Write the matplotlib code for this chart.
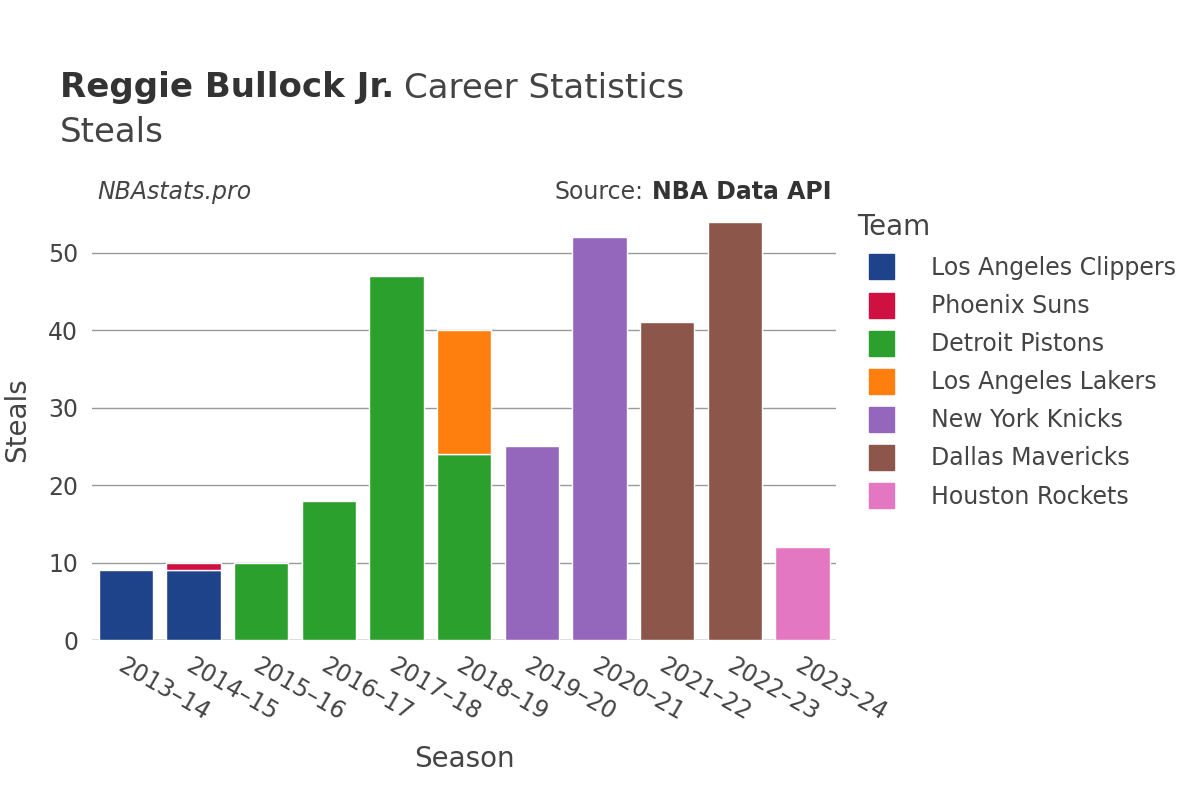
import numpy as np
import matplotlib.pyplot as plt
from matplotlib.lines import Line2D

# Data
seasons = ["2013–14", "2014–15", "2015–16", "2016–17", "2017–18", "2018–19",
           "2019–20", "2020–21", "2021–22", "2022–23", "2023–24"]
teams = ["Los Angeles Clippers", "Phoenix Suns", "Detroit Pistons", "Los Angeles Lakers",
         "New York Knicks", "Dallas Mavericks", "Houston Rockets"]
colors = ["#1f438a", "#ce1141", "#2ca02c", "#ff7f0e", "#9467bd", "#8c564b", "#e377c2"]

clippers = [9, 9, 0, 0, 0, 0, 0, 0, 0, 0, 0]
suns     = [0, 1, 0, 0, 0, 0, 0, 0, 0, 0, 0]
pistons  = [0, 0, 10, 18, 47, 24, 0, 0, 0, 0, 0]
lakers   = [0, 0, 0, 0, 0, 16, 0, 0, 0, 0, 0]
knicks   = [0, 0, 0, 0, 0, 0, 25, 52, 0, 0, 0]
mavs     = [0, 0, 0, 0, 0, 0, 0, 0, 41, 54, 0]
rockets  = [0, 0, 0, 0, 0, 0, 0, 0, 0, 0, 12]
series = [clippers, suns, pistons, lakers, knicks, mavs, rockets]

text_col = "#444444"

fig = plt.figure(figsize=(12, 8), dpi=100)
ax = fig.add_axes([0.0767, 0.2, 0.6203, 0.55])

x = np.arange(len(seasons))
bottom = np.zeros(len(seasons))
for vals, col in zip(series, colors):
    vals = np.array(vals, dtype=float)
    mask = vals > 0
    ax.bar(x[mask], vals[mask], bottom=bottom[mask], width=0.8, color=col,
           edgecolor="white", linewidth=1, zorder=3)
    bottom += vals

ax.set_xlim(-0.5, len(seasons) - 0.5)
ax.set_ylim(0, 56.8)
ax.set_yticks([0, 10, 20, 30, 40, 50])
ax.grid(axis="y", color="#999999", linewidth=1, zorder=0)
ax.axhline(0, color="#dddddd", linewidth=2, zorder=2)
for s in ax.spines.values():
    s.set_visible(False)
ax.tick_params(axis="both", length=0, labelsize=17, labelcolor=text_col)
ax.tick_params(axis="y", pad=10)
ax.set_xticks(x)
ax.set_xticklabels(seasons, rotation=-30, ha="left", rotation_mode="anchor")
ax.tick_params(axis="x", pad=10)

ax.set_xlabel("Season", fontsize=20, color=text_col, labelpad=14)
fig.text(17 / 1200, 1 - 420 / 800, "Steals", fontsize=20, color=text_col,
         rotation=90, ha="center", va="center")

# Titles
t1 = fig.text(60 / 1200, 1 - 88 / 800, "Reggie Bullock Jr.", fontsize=24.5,
              fontweight="bold", color="#333333", va="center")
fig.canvas.draw()
bb = t1.get_window_extent()
fig.text(bb.x1 / 1200 + 10 / 1200, 1 - 88 / 800, "Career Statistics", fontsize=24.5,
         color="#444444", va="center")
fig.text(60 / 1200, 1 - 132 / 800, "Steals", fontsize=24.5, color="#444444", va="center")
fig.text(97 / 1200, 1 - 192 / 800, "NBAstats.pro", fontsize=17, style="italic",
         color=text_col, va="center")
t2 = fig.text(832 / 1200, 1 - 192 / 800, "NBA Data API", fontsize=17, fontweight="bold",
              color="#333333", va="center", ha="right")
fig.canvas.draw()
bb2 = t2.get_window_extent()
fig.text(bb2.x0 / 1200 - 9 / 1200, 1 - 192 / 800, "Source:", fontsize=17, color=text_col,
         va="center", ha="right")

# Legend
handles = [Line2D([0], [0], marker="s", linestyle="", markersize=18,
                  markerfacecolor=c, markeredgecolor=c) for c in colors]
leg = fig.legend(handles, teams, title="Team", loc="upper left",
                 bbox_to_anchor=(848 / 1200, 1 - 204 / 800), frameon=False,
                 fontsize=17, title_fontsize=20, labelspacing=0.6,
                 handletextpad=1.1, borderaxespad=0)
leg._legend_box.align = "left"
for t in leg.get_texts():
    t.set_color(text_col)
leg.get_title().set_color(text_col)

fig.savefig("out.png", dpi=100)
